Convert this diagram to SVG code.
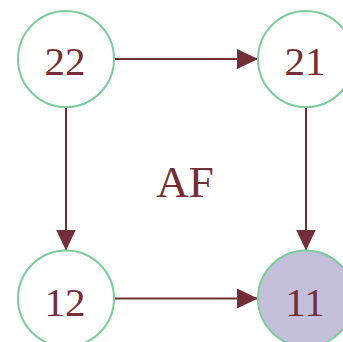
<svg xmlns="http://www.w3.org/2000/svg" width="343" height="342" viewBox="0 0 343 342">
<style>
.n{fill:#ffffff;stroke:#7dcb9a;stroke-width:2}
.t{font-family:"Liberation Serif",serif;font-size:41px;fill:#722f37;text-anchor:middle}
.e{stroke:#722f37;stroke-width:2;fill:none}
</style>
<defs>
<marker id="a" markerWidth="21" markerHeight="20" refX="21" refY="10" orient="auto" markerUnits="userSpaceOnUse">
<path d="M0,0 L21,10 L0,20 Z" fill="#722f37"/>
</marker>
</defs>
<rect width="343" height="342" fill="#ffffff"/>
<g id="edges">
<line class="e" x1="114" y1="59" x2="258" y2="59" marker-end="url(#a)"/>
<line class="e" x1="114" y1="298.5" x2="258" y2="298.5" marker-end="url(#a)"/>
<line class="e" x1="66" y1="107" x2="66" y2="250.5" marker-end="url(#a)"/>
<line class="e" x1="306" y1="107" x2="306" y2="250.5" marker-end="url(#a)"/>
</g>
<g id="n22"><circle class="n" cx="66" cy="59" r="48"/><text class="t" x="65" y="75">22</text></g>
<g id="n21"><circle class="n" cx="306" cy="59" r="48"/><text class="t" x="305" y="75">21</text></g>
<g id="n12"><circle class="n" cx="66" cy="298.5" r="48"/><text class="t" x="65" y="316">12</text></g>
<g id="n11"><circle class="n" cx="306" cy="298.5" r="48" style="fill:#c4c0dc"/><text class="t" x="305" y="316">11</text></g>
<text id="label" class="t" x="185" y="197" style="font-size:45px">AF</text>
</svg>
